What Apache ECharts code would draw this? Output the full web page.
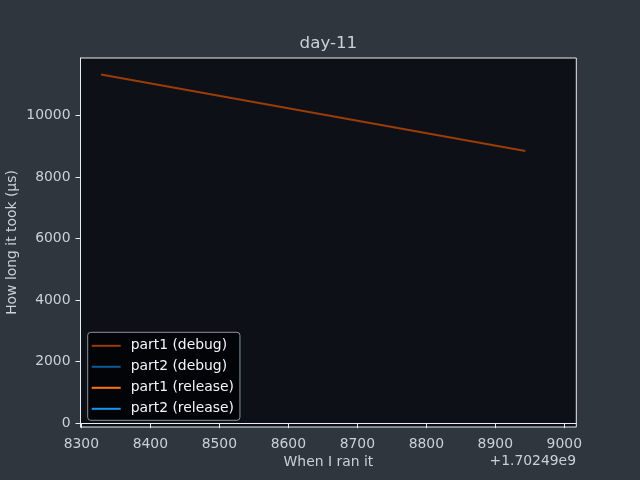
<!DOCTYPE html>
<html>
<head>
<meta charset="utf-8">
<script src="https://cdn.jsdelivr.net/npm/echarts@6/dist/echarts.min.js"></script>
<style>html,body{margin:0;padding:0;background:#30363d;}#c{width:640px;height:480px;}</style>
</head>
<body>
<div id="c"></div>
<script>
// Times are offsets from 1.70249e9 (seconds), values in microseconds
const offsetLabel = '+1.70249e9';
const seriesNames = ['part1 (debug)', 'part2 (debug)', 'part1 (release)', 'part2 (release)'];
const part1DebugX = [8328.6, 8943.5];
const part1DebugY = [11340, 8850];
const part2DebugX = [];
const part2DebugY = [];
const part1ReleaseX = [];
const part1ReleaseY = [];
const part2ReleaseX = [];
const part2ReleaseY = [];
const xTicks = [8300, 8400, 8500, 8600, 8700, 8800, 8900, 9000];
const yTicks = [0, 2000, 4000, 6000, 8000, 10000];

const colors = ['#9c3c08', '#0e5a9a', '#ff7410', '#1a96f0'];
const pairs = (xs, ys) => xs.map((x, i) => [x, ys[i]]);
const seriesData = [
  pairs(part1DebugX, part1DebugY),
  pairs(part2DebugX, part2DebugY),
  pairs(part1ReleaseX, part1ReleaseY),
  pairs(part2ReleaseX, part2ReleaseY)
];

const FONT = 'DejaVu Sans';
const tickColor = '#c9d1d9';
const spine = '#e6edf3';
const gl = 80.5, gt = 58, gr = 576.3, gb = 427;

const chart = echarts.init(document.getElementById('c'), null, {renderer: 'canvas'});
chart.setOption({
  backgroundColor: '#30363d',
  animation: false,
  textStyle: {fontFamily: FONT},
  grid: {
    left: gl, top: gt, width: gr - gl, height: gb - gt,
    show: true, backgroundColor: '#0d1117', borderColor: spine, borderWidth: 1,
    containLabel: false
  },
  legend: {
    orient: 'vertical', left: 87.7, top: 332.3,
    data: seriesNames,
    icon: 'rect', itemWidth: 29, itemHeight: 2, itemGap: 5,
    padding: [5.5, 6, 3.5, 4],
    backgroundColor: '#030407', borderColor: '#8b949e', borderWidth: 1, borderRadius: 3,
    textStyle: {color: '#f0f6fc', fontFamily: FONT, fontSize: 13.9, lineHeight: 16, padding: [0, 0, 0, 5]}
  },
  xAxis: {
    type: 'value', min: 8298.8, max: 9017.4,
    axisLine: {show: true, lineStyle: {color: spine, width: 1}},
    axisTick: {show: true, length: 5, lineStyle: {color: spine}, customValues: xTicks},
    axisLabel: {color: tickColor, fontSize: 13.9, fontFamily: FONT, margin: 10, customValues: xTicks,
      formatter: v => String(Math.round(v))},
    splitLine: {show: false}
  },
  yAxis: {
    type: 'value', min: -125, max: 11877,
    axisLine: {show: true, lineStyle: {color: spine, width: 1}},
    axisTick: {show: true, length: 5, lineStyle: {color: spine}, customValues: yTicks},
    axisLabel: {color: tickColor, fontSize: 13.9, fontFamily: FONT, margin: 10, customValues: yTicks,
      formatter: v => String(Math.round(v))},
    splitLine: {show: false}
  },
  series: seriesNames.map((name, i) => ({
    name: name, type: 'line', data: seriesData[i],
    showSymbol: false, symbol: 'none',
    lineStyle: {color: colors[i], width: 2},
    itemStyle: {color: colors[i]}
  })),
  graphic: [
    {type: 'text', x: (gl + gr) / 2, y: 43.5,
      style: {text: 'day-11', fill: tickColor, font: '16.7px "DejaVu Sans"', textAlign: 'center', textVerticalAlign: 'middle'}},
    {type: 'text', x: (gl + gr) / 2, y: 462,
      style: {text: 'When I ran it', fill: tickColor, font: '13.9px "DejaVu Sans"', textAlign: 'center', textVerticalAlign: 'middle'}},
    {type: 'text', x: 576, y: 461.5,
      style: {text: offsetLabel, fill: tickColor, font: '13.9px "DejaVu Sans"', textAlign: 'right', textVerticalAlign: 'middle'}},
    {type: 'text', x: 12, y: 242.5, rotation: Math.PI / 2,
      style: {text: 'How long it took (µs)', fill: tickColor, font: '13.9px "DejaVu Sans"', textAlign: 'center', textVerticalAlign: 'middle'}}
  ]
});
</script>
</body>
</html>
